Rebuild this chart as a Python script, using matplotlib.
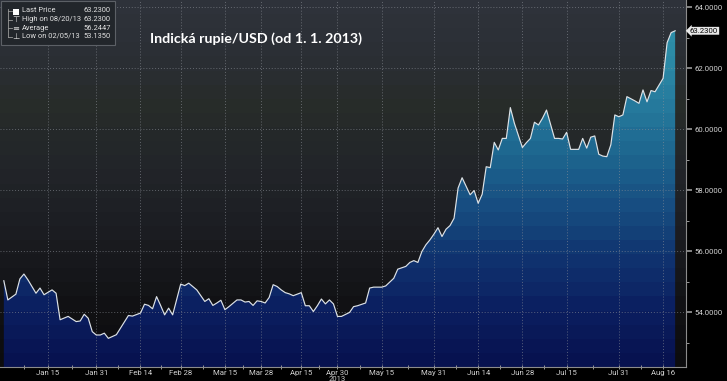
import numpy as np
import matplotlib.pyplot as plt
from matplotlib.colors import LinearSegmentedColormap
from matplotlib.patches import Polygon, Rectangle
from matplotlib.lines import Line2D
from matplotlib.transforms import blended_transform_factory

# trading-day number (0 = 31 Dec 2012) and INR per USD
days = [0, 1, 3, 4, 5, 6, 8, 9, 10, 12, 13, 14, 16, 18, 19, 20, 21, 22, 23, 24, 25, 26, 28, 31, 32, 34,
        35, 36, 37, 38, 39, 40, 41, 42, 44, 45, 46, 48, 50, 51, 52, 53, 54, 55, 56, 58, 59, 60, 61, 62, 63, 64, 65, 66, 67, 68,
        69, 70, 71, 72, 74, 75, 76, 77, 78, 79, 80, 81, 82, 83, 84, 86, 87, 88, 90, 91, 92, 94, 95, 97, 98, 100, 101, 102, 103, 104, 105, 106,
        107, 108, 109, 110, 111, 112, 113, 114, 116, 117, 118, 119, 120, 121, 122, 123, 124, 125, 126, 127, 129, 130, 131, 132, 133, 134, 135, 136, 137, 138,
        139, 140, 141, 143, 144, 145, 146, 147, 148, 149, 150, 151, 152, 153, 154, 155, 157, 158, 159, 160, 161, 162, 163, 164, 165, 166, 167]
rate = [55.03, 54.40, 54.59, 55.09, 55.25, 55.06, 54.62, 54.79, 54.57, 54.73, 54.62, 53.75, 53.86, 53.69, 53.71, 53.93, 53.80, 53.36, 53.25, 53.25, 53.31, 53.14, 53.26, 53.89, 53.87, 53.97,
        54.26, 54.22, 54.11, 54.51, 54.22, 53.91, 54.13, 53.91, 54.92, 54.87, 54.95, 54.73, 54.35, 54.44, 54.22, 54.30, 54.39, 54.08, 54.18, 54.40, 54.40, 54.33, 54.35, 54.22, 54.37, 54.35, 54.30, 54.48, 54.90, 54.84,
        54.73, 54.64, 54.60, 54.54, 54.64, 54.21, 54.21, 54.02, 54.21, 54.43, 54.27, 54.40, 54.27, 53.86, 53.86, 53.99, 54.18, 54.21, 54.30, 54.79, 54.82, 54.82, 54.86, 55.11, 55.41, 55.50, 55.63, 55.69, 55.63, 55.99, 56.21, 56.37,
        56.56, 56.77, 56.48, 56.72, 56.84, 57.08, 58.07, 58.41, 57.85, 57.99, 57.57, 57.87, 58.77, 58.74, 59.57, 59.32, 59.70, 59.70, 60.71, 60.20, 59.40, 59.56, 59.70, 60.23, 60.14, 60.36, 60.63, 60.16, 59.70, 59.70,
        59.68, 59.90, 59.34, 59.34, 59.70, 59.38, 59.74, 59.78, 59.18, 59.12, 59.10, 59.49, 60.47, 60.41, 60.47, 61.07, 60.93, 60.85, 61.29, 60.90, 61.27, 61.23, 61.45, 61.67, 62.84, 63.17, 63.23]

tick_days = [11, 23, 34, 44, 55, 64, 74, 83, 94, 107, 118, 129, 140, 153, 164]
tick_labels = ["Jan 15", "Jan 31", "Feb 14", "Feb 28", "Mar 15", "Mar 28", "Apr 15", "Apr 30",
               "May 15", "May 31", "Jun 14", "Jun 28", "Jul 15", "Jul 31", "Aug 16"]
y_major = [54, 56, 58, 60, 62, 64]
y_minor = [53, 55, 57, 59, 61, 63]
legend_labels = ["Last Price", "High on 08/20/13", "Average", "Low on 02/05/13"]
legend_values = ["63.2300", "63.2300", "56.2447", "53.1350"]
last_price = 63.23
title = "Indická rupie/USD (od 1. 1. 2013)"

W, H = 727, 381
fig = plt.figure(figsize=(W / 100, H / 100), dpi=100, facecolor="black")
ax = fig.add_axes([0, 14 / H, 686 / W, 367 / H])
ax.set_facecolor("black")

xmin, xmax = -0.95, 169.7
ymin, ymax = 52.2, 64.24

# banded background above the curve
bg = LinearSegmentedColormap.from_list(
    "bg", ["#0c0c0e", "#111114", "#18191d", "#1e2025", "#23262a", "#272c29", "#2b2f35", "#2e323a"])
lev = np.linspace(0, 1, 26)[:, None]
ax.imshow(lev, extent=[xmin, xmax, ymin, ymax], origin="lower", aspect="auto",
          cmap=bg, interpolation="nearest", zorder=0)

# banded blue fill under the curve
fc = LinearSegmentedColormap.from_list(
    "fill", ["#071250", "#0b1f60", "#10336f", "#174c80", "#1d648e", "#25799c", "#2c8aa6", "#3192ab"])
im = ax.imshow(lev, extent=[xmin, xmax, ymin, ymax], origin="lower", aspect="auto",
               cmap=fc, interpolation="nearest", zorder=1)
verts = [(days[0], ymin)] + list(zip(days, rate)) + [(days[-1], ymin)]
clip = Polygon(verts, closed=True, facecolor="none", edgecolor="none", transform=ax.transData)
ax.add_patch(clip)
im.set_clip_path(clip)

# dotted grid
for d in tick_days:
    ax.axvline(d, color="#8c9098", lw=0.7, ls=(0, (1, 2)), alpha=0.6, zorder=3)
for v in y_major:
    ax.axhline(v, color="#8c9098", lw=0.7, ls=(0, (1, 2)), alpha=0.6, zorder=3)

ax.plot(days, rate, color="#dde2e6", lw=0.85, zorder=4)

ax.set_xlim(xmin, xmax)
ax.set_ylim(ymin, ymax)

mids = [tick_days[0] - (tick_days[1] - tick_days[0]) / 2] + \
       [(a + b) / 2 for a, b in zip(tick_days[:-1], tick_days[1:])]
ax.set_xticks(tick_days, tick_labels)
ax.set_xticks(mids, minor=True)
ax.yaxis.tick_right()
ax.set_yticks(y_major, [f"{v:.4f}" for v in y_major])
ax.set_yticks(y_minor, minor=True)

ax.tick_params(axis="x", which="both", colors="#9a9a9a", direction="inout", length=3, width=0.7,
               labelsize=5.6, labelcolor="#cfcfcf", pad=1)
ax.tick_params(axis="y", which="major", colors="#9a9a9a", direction="out", length=4, width=1.2,
               labelsize=5.6, labelcolor="#d2d2d2", pad=2)
ax.tick_params(axis="y", which="minor", colors="#9a9a9a", direction="out", length=2, width=0.7)
for lab in ax.get_xticklabels() + ax.get_yticklabels():
    lab.set_family("Roboto")
for s in ["top", "left"]:
    ax.spines[s].set_visible(False)
for s in ["bottom", "right"]:
    ax.spines[s].set_color("#8c8c8c")
    ax.spines[s].set_linewidth(0.8)

# year under the axis (cut off at the bottom edge, like the original)
ax.text(83, 1 - 376 / H, "2013", transform=blended_transform_factory(ax.transData, fig.transFigure),
        ha="center", va="top", color="#cfcfcf", fontsize=5.5, family="Roboto")

# last price tag
ax.text(1.0 + 4 / 686, last_price, "63.2300",
        transform=blended_transform_factory(ax.transAxes, ax.transData),
        ha="left", va="center", color="black", fontsize=5.6, family="Roboto", zorder=6,
        bbox=dict(boxstyle="larrow,pad=0.12", fc="#e8e8e8", ec="none"), clip_on=False)

ax.text(0.373, 0.896, title, transform=ax.transAxes, ha="center", va="center",
        color="white", fontsize=10.3, fontweight="bold", family="Lato", zorder=6)


# legend box in the top-left corner
def px(x, y):
    return x / W, 1 - y / H


x0, y0 = px(1, 45)
fig.add_artist(Rectangle((x0, y0), 114 / W, 44 / H, transform=fig.transFigure,
                         fc="#22262b", ec="#5c6066", lw=0.8, zorder=10))
rows_y = [11, 19.5, 28, 36.5]
fig.add_artist(Line2D([8 / W, 8 / W], [px(0, 9)[1], px(0, rows_y[-1])[1]], transform=fig.transFigure,
                      color="#9a9a9a", lw=0.6, zorder=11))
for ry in rows_y:
    fig.add_artist(Line2D([8 / W, 12 / W], [px(0, ry)[1]] * 2, transform=fig.transFigure,
                          color="#9a9a9a", lw=0.6, zorder=11))
fig.add_artist(Rectangle(px(13, 14.5), 6 / W, 6 / H, transform=fig.transFigure,
                         fc="white", ec="none", zorder=11))
for ry, icon in zip(rows_y[1:], ["⊤", "≡", "⊥"]):
    fig.text(*px(16, ry), icon, ha="center", va="center", color="#d8d8d8", fontsize=6, zorder=12)
for ry, lab, val in zip(rows_y, legend_labels, legend_values):
    fig.text(*px(22, ry), lab, ha="left", va="center", color="#e2e2e2", fontsize=5.4,
             family="Roboto", zorder=12)
    fig.text(*px(111, ry), val, ha="right", va="center", color="#e2e2e2", fontsize=5.4,
             family="Roboto", zorder=12)

fig.savefig("out.png", dpi=100, facecolor="black")
